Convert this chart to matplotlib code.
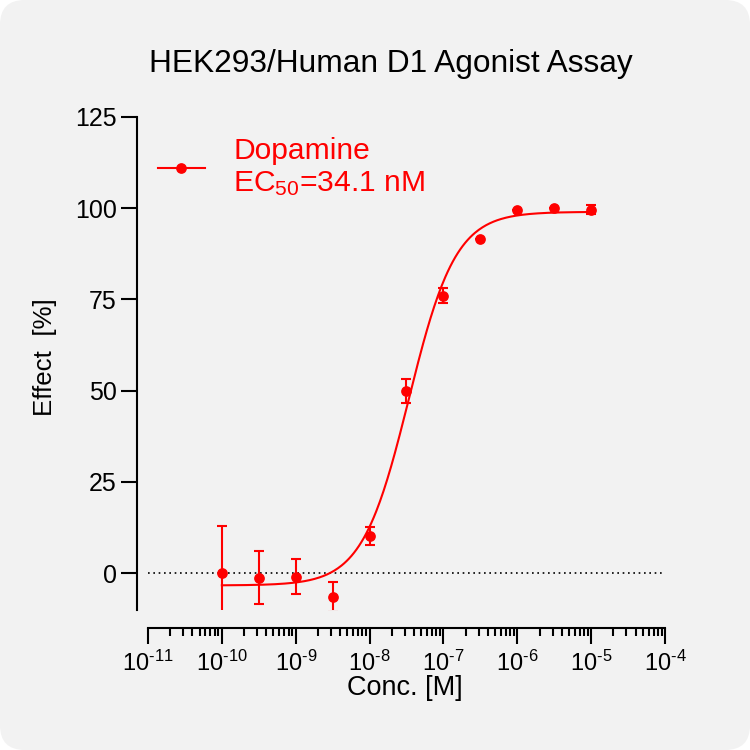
import numpy as np
import matplotlib
matplotlib.use("Agg")
import matplotlib.pyplot as plt
from matplotlib.lines import Line2D
from matplotlib.patches import FancyBboxPatch
from matplotlib.ticker import LogLocator, FuncFormatter, MultipleLocator

plt.rcParams["font.family"] = ["Liberation Sans", "DejaVu Sans"]
plt.rcParams["mathtext.fontset"] = "custom"
plt.rcParams["mathtext.rm"] = "Liberation Sans"
plt.rcParams["mathtext.it"] = "Liberation Sans:italic"
plt.rcParams["mathtext.bf"] = "Liberation Sans:bold"

# measured points (mean +/- error), concentrations in M
conc = [1e-10, 3.16e-10, 1e-9, 3.16e-9, 1e-8, 3.16e-8, 1e-7, 3.16e-7, 1e-6, 3.16e-6, 1e-5]
effect = [0.0, -1.3, -1.0, -6.5, 10.2, 49.9, 76.0, 91.6, 99.4, 100.1, 99.6]
err = [12.9, 7.2, 4.8, 4.1, 2.4, 3.2, 2.1, 0.0, 0.0, 0.0, 1.2]

# four-parameter logistic fit shown on the chart
fit_bottom = -3.4
fit_top = 99.0
fit_ec50 = 34.1e-9
fit_hill = 1.37

RED = "#ff0000"


def pow10_label(v, pos):
    # GraphPad-style "10^-n" with a short hyphen in the exponent
    e = int(round(np.log10(v)))
    sign = "\u2010" if e < 0 else ""
    return f"$\\mathregular{{10^{{{sign}{abs(e)}}}}}$"


fig = plt.figure(figsize=(7.5, 7.5), dpi=100)
fig.patch.set_facecolor("white")
fig.patches.append(FancyBboxPatch((0, 0), 1, 1, boxstyle="round,pad=0,rounding_size=0.033",
                                  transform=fig.transFigure, facecolor="#f2f2f2",
                                  edgecolor="none", zorder=-10))

ax = fig.add_axes([148 / 750, 140.5 / 750, 517 / 750, 492.5 / 750])
ax.set_facecolor("none")

xs = np.logspace(np.log10(conc[0]), np.log10(conc[-1]), 300)
ys = fit_bottom + (fit_top - fit_bottom) / (1 + 10 ** (fit_hill * (np.log10(fit_ec50) - np.log10(xs))))
ax.plot(xs, ys, color=RED, lw=1.5, zorder=3)
ax.errorbar(conc, effect, yerr=err, fmt="o", color=RED, ms=6.7, elinewidth=1.5,
            capsize=3.4, capthick=1.5, zorder=4, clip_on=True)
ax.axhline(0, color="black", lw=1.2, ls=(0, (1, 2.2)), zorder=1)

ax.set_xscale("log")
ax.set_xlim(1e-11, 1e-4)
ax.set_ylim(-10, 125)
ax.yaxis.set_major_locator(MultipleLocator(25))
ax.xaxis.set_major_locator(LogLocator(base=10, numticks=20))
ax.xaxis.set_minor_locator(LogLocator(base=10, subs=np.arange(2, 10), numticks=20))
ax.xaxis.set_major_formatter(FuncFormatter(pow10_label))

for s in ["top", "right"]:
    ax.spines[s].set_visible(False)
ax.spines["left"].set_position(("outward", 8))
ax.spines["bottom"].set_position(("outward", 13))
for s in ["left", "bottom"]:
    ax.spines[s].set_linewidth(1.5)
ax.tick_params(axis="both", which="major", length=11.5, width=1.5)
ax.tick_params(axis="x", which="major", pad=5, labelsize=17)
ax.tick_params(axis="y", which="major", pad=3, labelsize=18)
ax.tick_params(axis="x", which="minor", length=6, width=1.5)

fig.text(390.5 / 750, 1 - 72 / 750, "HEK293/Human D1 Agonist Assay", fontsize=22.8,
         ha="center", va="baseline")
fig.text(45 / 750, 1 - 357.5 / 750, "Effect  [%]", fontsize=18.6, rotation=90,
         ha="center", va="center")
fig.text(405 / 750, 1 - 695 / 750, "Conc. [M]", fontsize=19.5, ha="center", va="baseline")

handle = Line2D([], [], color=RED, marker="o", ms=6.7, lw=1.5)
ax.legend([handle], ["Dopamine\nEC$_\\mathregular{50}$=34.1 nM"], loc="upper left",
          bbox_to_anchor=(158 / 750, 1 - 137 / 750), bbox_transform=fig.transFigure,
          frameon=False, fontsize=21.6, labelcolor=RED, borderpad=0, borderaxespad=0,
          handlelength=1.55, handletextpad=0.95, numpoints=1)

fig.savefig("out.png", dpi=100)
